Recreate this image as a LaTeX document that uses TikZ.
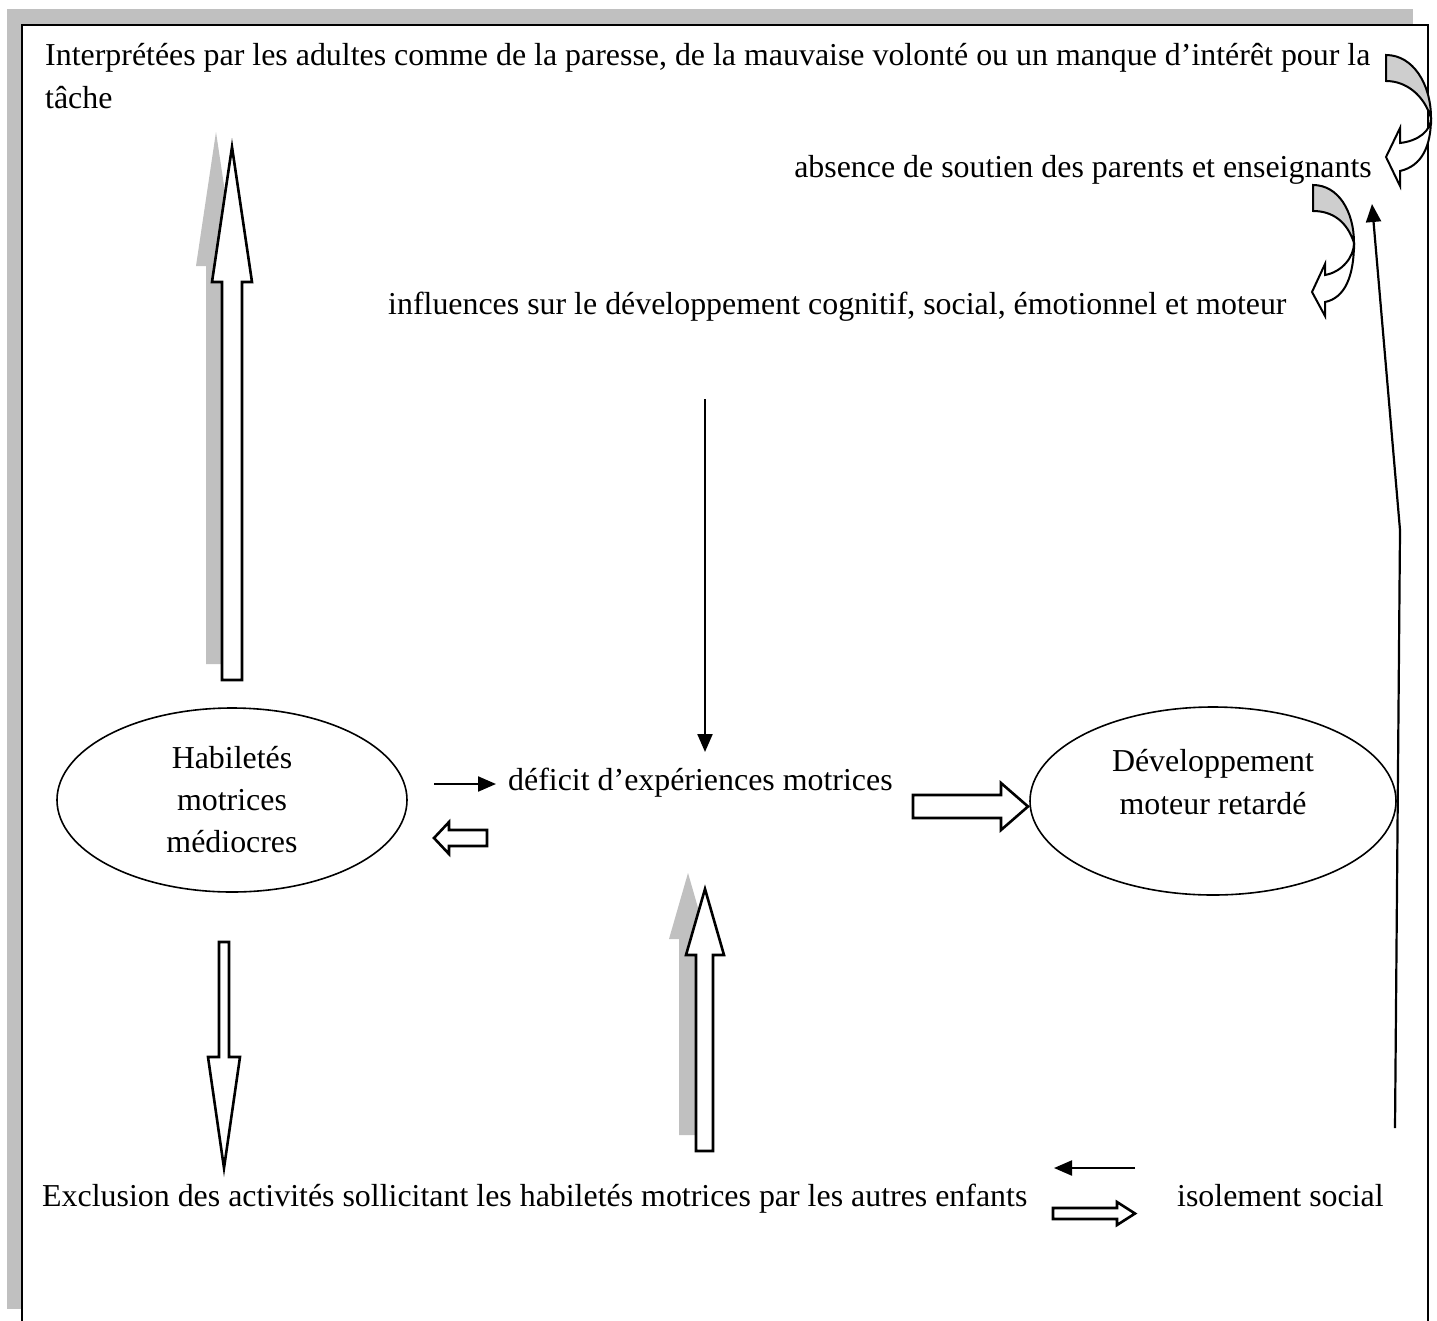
\documentclass[tikz,border=0pt]{standalone}
\usepackage{fontspec}
\setmainfont{Liberation Serif}
\usetikzlibrary{arrows.meta,shapes.geometric}
\definecolor{shadowgray}{RGB}{192,192,192}
\definecolor{facegray}{RGB}{206,206,206}
\begin{document}
\begin{tikzpicture}[x=1pt,y=-1pt,
  txt/.style={inner sep=0pt, font=\fontsize{31.9}{42}\selectfont, anchor=base west},
  ctxt/.style={txt, anchor=base},
  hollow/.style={draw=black, line width=2.6pt, fill=white, line join=miter},
  shadowshape/.style={fill=shadowgray, draw=none},
  curvedface/.style={draw=black, line width=2pt, fill=facegray, line join=miter},
  curvedfront/.style={draw=black, line width=2pt, fill=white, line join=miter},
  thinarrow/.style={line width=2.2pt, -{Triangle[length=18pt,width=15pt]}},
  oval/.style={ellipse, draw=black, line width=1.6pt}]
\useasboundingbox (0,0) rectangle (1437,1320);
% frame with shadow
\fill[shadowgray] (7,9) rectangle (1413,1309);
\filldraw[fill=white, draw=black, line width=2pt] (22,25) rectangle (1428,1340);

% texts
\node[txt] (interp) at (45,65) {Interprétées par les adultes comme de la paresse, de la mauvaise volonté ou un manque d’intérêt pour la};
\node[txt] (tache) at (45,108) {tâche};
\node[txt, anchor=base east] (absence) at (1372,177) {absence de soutien des parents et enseignants};
\node[txt] (influ) at (388,314) {influences sur le développement cognitif, social, émotionnel et moteur};
\node[txt] (deficit) at (508,790) {déficit d’expériences motrices};
\node[txt] (exclu) at (42,1206) {Exclusion des activités sollicitant les habiletés motrices par les autres enfants};
\node[txt] (isol) at (1177,1206) {isolement social};

% ellipses
\node[oval, minimum width=350pt, minimum height=184pt] (hab) at (232,800) {};
\node[ctxt] (hab1) at (232,768) {Habiletés};
\node[ctxt] (hab2) at (232,810) {motrices};
\node[ctxt] (hab3) at (232,852) {médiocres};
\node[oval, minimum width=366pt, minimum height=188pt] (dev) at (1213,801) {};
\node[ctxt] (dev1) at (1213,771) {Développement};
\node[ctxt] (dev2) at (1213,814) {moteur retardé};

% big up arrow left (with shadow)
\fill[shadowshape] (206,664) -- (206,266) -- (196,266) -- (216,132) -- (236,266) -- (226,266) -- (226,664) -- cycle;
\draw[hollow] (222,680) -- (222,282) -- (212,282) -- (232,147) -- (252,282) -- (242,282) -- (242,680) -- cycle;

% big up arrow middle (with shadow)
\fill[shadowshape] (679,1135) -- (679,939) -- (669,939) -- (688,873) -- (707,939) -- (696,939) -- (696,1135) -- cycle;
\draw[hollow] (696,1151) -- (696,955) -- (686,955) -- (705,889) -- (724,955) -- (713,955) -- (713,1151) -- cycle;

% hollow down arrow left
\draw[hollow] (219,942) -- (219,1057) -- (208,1057) -- (224,1168) -- (240,1057) -- (229,1057) -- (229,942) -- cycle;

% small hollow left arrow
\draw[hollow] (487,830) -- (449,830) -- (449,822) -- (434,838) -- (449,854) -- (449,846) -- (487,846) -- cycle;

% hollow right arrow middle
\draw[hollow] (913,795) -- (1001,795) -- (1001,783) -- (1028,806.5) -- (1001,830) -- (1001,818) -- (913,818) -- cycle;

% small hollow right arrow bottom
\draw[hollow] (1053,1208) -- (1117,1208) -- (1117,1202) -- (1135,1213.5) -- (1117,1225) -- (1117,1219) -- (1053,1219) -- cycle;

% thin arrows
\coordinate (a1s) at (434,784); \coordinate (a1e) at (496,784);
\draw[thinarrow] (a1s) -- (a1e);
\coordinate (a2s) at (705,399); \coordinate (a2e) at (705,752);
\draw[thinarrow] (a2s) -- (a2e);
\coordinate (a3s) at (1135,1168); \coordinate (a3e) at (1054,1168);
\draw[thinarrow] (a3s) -- (a3e);
\coordinate (a4s) at (1395,1128); \coordinate (a4m) at (1400,530); \coordinate (a4e) at (1372,204);
\draw[thinarrow, line join=miter] (a4s) -- (a4m) -- (a4e);

% curved arrow 1
\draw[curvedfront] (1431,118) .. controls (1431,131) and (1418,141) .. (1400,143) -- (1400,128) -- (1386,157) -- (1400,186) -- (1400,171) .. controls (1422,166) and (1431,146) .. (1431,118) -- cycle;
\draw[curvedface] (1386,55) .. controls (1413,55) and (1431,84) .. (1431,118) .. controls (1424,95) and (1406,81) .. (1386,81) -- cycle;

% curved arrow 2
\draw[curvedfront] (1354,243) .. controls (1354,257) and (1342,272) .. (1325,275) -- (1325,264) -- (1312,292) -- (1325,316) -- (1325,302) .. controls (1345,298) and (1354,276) .. (1354,243) -- cycle;
\draw[curvedface] (1313,185) .. controls (1338,185) and (1354,211) .. (1354,243) .. controls (1347,221) and (1332,211) .. (1313,211) -- cycle;
\end{tikzpicture}
\end{document}
